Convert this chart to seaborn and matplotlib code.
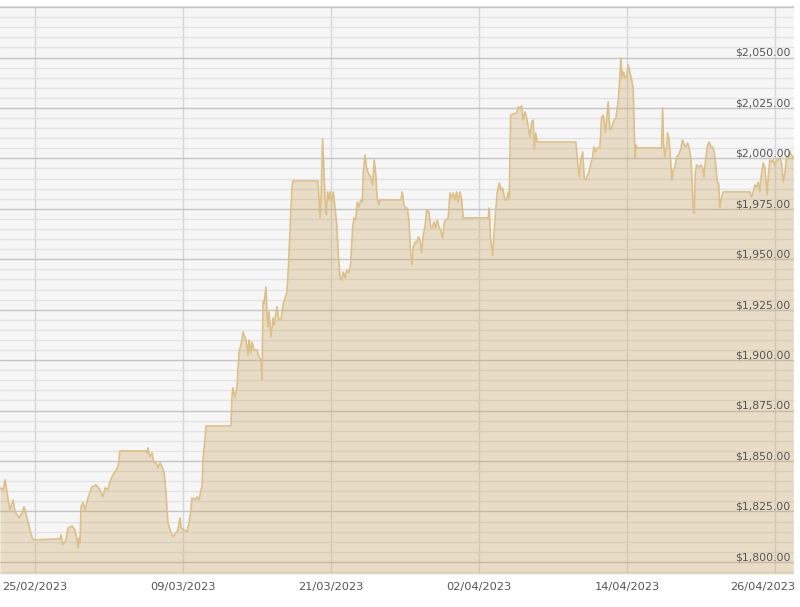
import pandas as pd
import numpy as np
import seaborn as sns
import matplotlib.pyplot as plt
from matplotlib.ticker import MultipleLocator
from matplotlib.transforms import blended_transform_factory, ScaledTranslation

# days after 25/02/2023 00:00 and gold price in USD
days = [
    -2.84, -2.59, -2.43, -2.27, -2.03, -1.78, -1.62, -1.30, -1.05, -0.89,
    -0.65, -0.41, -0.24, -0.08, 2.03, 2.11, 2.27, 2.51, 2.68, 3.00,
    3.24, 3.41, 3.49, 3.57, 3.65, 3.73, 3.89, 4.05, 4.30, 4.62,
    4.95, 5.27, 5.51, 5.68, 5.92, 6.08, 6.32, 6.57, 6.73, 6.89,
    9.00, 9.08, 9.16, 9.32, 9.49, 9.65, 9.81, 9.97, 10.14, 10.30,
    10.46, 10.62, 10.70, 10.78, 10.95, 11.19, 11.43, 11.59, 11.76, 11.84,
    12.08, 12.32, 12.49, 12.65, 12.73, 12.97, 13.14, 13.30, 13.46, 13.54,
    13.62, 13.78, 13.87, 15.89, 15.97, 16.05, 16.22, 16.38, 16.54, 16.78,
    16.86, 17.11, 17.27, 17.35, 17.51, 17.59, 17.76, 18.00, 18.16, 18.32,
    18.41, 18.49, 18.57, 18.73, 18.81, 18.89, 18.97, 19.14, 19.30, 19.38,
    19.62, 19.78, 19.95, 20.11, 20.35, 20.43, 20.51, 20.68, 20.84, 20.92,
    22.95, 23.03, 23.11, 23.19, 23.32, 23.43, 23.51, 23.62, 23.73, 23.84,
    23.92, 24.06, 24.19, 24.32, 24.46, 24.59, 24.73, 24.87, 25.00, 25.14,
    25.27, 25.46, 25.60, 25.76, 25.87, 26.00, 26.13, 26.27, 26.41, 26.54,
    26.62, 26.76, 26.89, 27.02, 27.22, 27.38, 27.51, 27.62, 27.75, 27.89,
    27.97, 29.68, 29.78, 29.92, 30.06, 30.19, 30.32, 30.46, 30.57, 30.67,
    30.81, 30.95, 31.08, 31.22, 31.35, 31.48, 31.62, 31.76, 31.95, 32.08,
    32.21, 32.35, 32.49, 32.62, 32.76, 32.89, 33.06, 33.19, 33.32, 33.51,
    33.65, 33.78, 33.92, 34.05, 34.19, 34.32, 34.46, 34.60, 34.73, 36.75,
    36.83, 36.95, 37.11, 37.30, 37.48, 37.65, 37.78, 37.92, 38.11, 38.24,
    38.37, 38.46, 38.57, 38.78, 39.06, 39.19, 39.33, 39.46, 39.59, 39.73,
    39.86, 40.00, 40.14, 40.27, 40.40, 40.49, 40.60, 40.73, 43.86, 43.97,
    44.13, 44.27, 44.41, 44.54, 44.68, 44.81, 44.94, 45.08, 45.22, 45.32,
    45.46, 45.59, 45.81, 45.95, 46.08, 46.27, 46.48, 46.62, 46.76, 46.95,
    47.11, 47.30, 47.43, 47.51, 47.62, 47.73, 47.86, 47.97, 48.10, 48.24,
    48.38, 48.51, 48.59, 48.67, 48.73, 48.84, 50.81, 50.89, 50.97, 51.08,
    51.22, 51.30, 51.43, 51.54, 51.65, 51.75, 51.89, 52.03, 52.19, 52.35,
    52.51, 52.65, 52.78, 52.92, 53.05, 53.19, 53.29, 53.37, 53.46, 53.54,
    53.65, 53.84, 54.00, 54.14, 54.24, 54.41, 54.54, 54.67, 54.81, 54.95,
    55.08, 55.22, 55.32, 55.43, 55.54, 55.68, 55.81, 57.97, 58.11, 58.24,
    58.38, 58.51, 58.65, 58.78, 58.92, 59.05, 59.19, 59.27, 59.38, 59.46,
    59.59, 59.73, 59.86, 60.00, 60.14, 60.27, 60.41, 60.54, 60.68, 60.81,
    60.95, 61.08, 61.22, 61.35, 61.49,
]
price = [
    1836.7, 1835.7, 1840.7, 1834.2, 1825.8, 1830.7, 1824.8, 1821.8, 1824.3, 1827.3,
    1821.8, 1815.9, 1811.9, 1810.9, 1811.4, 1813.4, 1808.4, 1810.9, 1816.8, 1817.8,
    1815.9, 1810.9, 1807.0, 1811.9, 1809.4, 1827.3, 1829.3, 1825.8, 1831.7, 1837.2,
    1838.2, 1835.7, 1832.2, 1836.7, 1835.7, 1839.7, 1843.1, 1845.6, 1847.1, 1855.0,
    1855.0, 1854.0, 1856.5, 1852.0, 1854.0, 1849.1, 1849.6, 1846.6, 1849.1, 1847.1,
    1844.6, 1834.7, 1825.8, 1819.4, 1815.9, 1812.4, 1814.4, 1815.9, 1821.8, 1816.9,
    1815.9, 1814.9, 1819.4, 1825.8, 1831.7, 1830.7, 1832.2, 1830.7, 1835.7, 1837.2,
    1850.6, 1860.5, 1867.4, 1867.4, 1881.3, 1886.3, 1881.3, 1886.8, 1903.6, 1910.0,
    1914.0, 1910.0, 1902.6, 1910.0, 1903.6, 1909.0, 1905.1, 1905.1, 1901.6, 1900.1,
    1890.2, 1928.8, 1928.3, 1936.3, 1923.4, 1916.5, 1923.9, 1911.5, 1920.9, 1917.5,
    1926.4, 1920.0, 1920.0, 1927.4, 1932.3, 1933.3, 1941.2, 1964.5, 1985.8, 1988.8,
    1988.8, 1979.4, 1970.5, 1979.4, 2009.6, 1994.3, 1980.9, 1972.0, 1983.4, 1979.4,
    1983.4, 1978.4, 1983.4, 1975.9, 1968.0, 1953.1, 1941.2, 1939.7, 1943.7, 1940.7,
    1944.7, 1943.2, 1948.1, 1966.0, 1970.5, 1969.5, 1978.4, 1975.9, 1979.4, 1978.4,
    1992.8, 2001.7, 1995.3, 1992.8, 1990.8, 1986.8, 1999.2, 1992.8, 1980.4, 1976.9,
    1979.4, 1979.4, 1983.4, 1976.9, 1975.4, 1975.4, 1969.5, 1953.1, 1947.2, 1956.1,
    1958.6, 1958.1, 1961.1, 1959.6, 1953.1, 1962.1, 1966.0, 1974.4, 1973.4, 1966.0,
    1965.5, 1968.5, 1965.5, 1969.5, 1966.0, 1964.5, 1960.6, 1968.5, 1969.5, 1970.5,
    1982.9, 1980.4, 1982.9, 1979.4, 1983.4, 1978.4, 1983.4, 1979.4, 1970.5, 1970.5,
    1975.4, 1959.6, 1952.1, 1969.5, 1982.9, 1987.8, 1984.3, 1985.3, 1979.4, 1979.4,
    1983.4, 1980.4, 2021.5, 2022.0, 2022.5, 2025.5, 2025.0, 2026.0, 2019.0, 2023.0,
    2020.5, 2015.6, 2010.6, 2018.0, 2019.0, 2004.2, 2012.6, 2008.1, 2008.1, 2000.7,
    1990.8, 1999.2, 2003.2, 1990.3, 1989.3, 1991.8, 1993.3, 1997.7, 2000.7, 2005.7,
    2003.2, 2005.2, 2005.2, 2020.5, 2021.5, 2013.1, 2028.0, 2014.1, 2015.1, 2019.0,
    2020.0, 2028.9, 2040.3, 2049.8, 2040.3, 2042.8, 2039.8, 2040.3, 2046.3, 2042.8,
    2038.9, 2034.9, 2014.1, 2000.2, 2006.6, 2005.2, 2005.2, 2025.0, 2007.6, 2000.7,
    2005.7, 2012.6, 2009.1, 1999.2, 1989.3, 1994.2, 1995.7, 2000.7, 2001.7, 2004.2,
    2009.1, 2006.6, 2005.7, 2007.6, 2005.2, 2000.2, 1987.8, 1975.9, 1972.9, 1992.8,
    1996.7, 1995.7, 1996.7, 1995.3, 1990.8, 2000.7, 2006.6, 2008.1, 2005.7, 2005.7,
    2003.2, 1995.7, 1988.3, 1987.8, 1975.4, 1980.9, 1983.4, 1983.4, 1980.9, 1983.4,
    1986.8, 1985.8, 1988.3, 1983.4, 1992.8, 1997.7, 1995.3, 1989.3, 1981.9, 1990.8,
    1999.2, 1998.2, 1999.2, 1996.7, 1999.2, 1999.2, 2000.2, 1997.7, 1988.3, 1992.8,
    2000.2, 2000.7, 2003.2, 2001.7, 2000.7,
]
tick_dates = ["2023-02-25", "2023-03-09", "2023-03-21", "2023-04-02", "2023-04-14", "2023-04-26"]
price_ticks = [1800, 1825, 1850, 1875, 1900, 1925, 1950, 1975, 2000, 2025, 2050]

start = pd.Timestamp("2023-02-25")
df = pd.DataFrame({"date": start + pd.to_timedelta(days, unit="D"), "price": price})

sns.set_style("white")
plt.rcParams['font.family'] = ['DejaVu Sans']

fig = plt.figure(figsize=(8, 6.07), dpi=100)
ax = fig.add_axes([0, 0.0544, 0.9925, 0.9356])
ax.set_facecolor("#f6f6f6")

y_min, y_max = 1794.0, 2075.5
ax.fill_between(df["date"], df["price"], y_min, color="#c9a15a", alpha=0.3, lw=0, zorder=2)
sns.lineplot(data=df, x="date", y="price", ax=ax, color="#dcc08a", lw=1.2, zorder=3)

ax.set_xlim(start + pd.Timedelta(days=-2.84), start + pd.Timedelta(days=61.55))
ax.set_ylim(y_min, y_max)

# grid: major every $25, minor every $5, verticals on date ticks
ax.yaxis.set_major_locator(MultipleLocator(25))
ax.yaxis.set_minor_locator(MultipleLocator(5))
ax.grid(which="major", axis="y", color="#c4c4c4", lw=1, zorder=1)
ax.grid(which="minor", axis="y", color="#e2e2e2", lw=1, zorder=1)
ticks = pd.to_datetime(tick_dates)
ax.set_xticks(ticks)
ax.set_xticklabels([t.strftime("%d/%m/%Y") for t in ticks])
ax.grid(which="major", axis="x", color="#d6d6d6", lw=1, zorder=1)
ax.set_axisbelow(True)

ax.tick_params(axis="x", length=0, pad=6, labelsize=8.2, labelcolor="#555555")
ax.tick_params(axis="y", which="both", length=0, labelleft=False, labelright=False)
ax.set_xlabel("")
ax.set_ylabel("")

# the last date label is pulled in so it stays inside the figure
last = ax.get_xticklabels()[-1]
last.set_horizontalalignment("right")
last.set_transform(last.get_transform() + ScaledTranslation(0.2, 0, fig.dpi_scale_trans))

# price labels sit inside the plot, just above their gridline
trans = blended_transform_factory(ax.transAxes, ax.transData)
for v in price_ticks:
    ax.text(0.996, v + 0.8, f"${v:,.2f}", transform=trans, ha="right", va="baseline",
            fontsize=7.8, color="#555555", zorder=4)

for side in ["left", "right", "bottom"]:
    ax.spines[side].set_visible(False)
ax.spines["top"].set_color("#dddddd")

fig.savefig("out.png", dpi=100, facecolor="white")
